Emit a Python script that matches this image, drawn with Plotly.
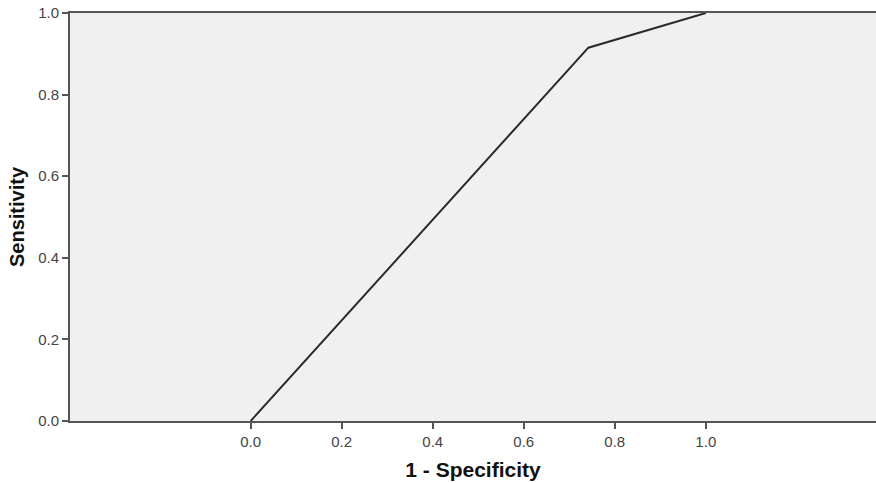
import plotly.graph_objects as go

fpr = [0.0, 0.742, 1.0]
tpr = [0.0, 0.915, 1.0]
x_ticks = [0.0, 0.2, 0.4, 0.6, 0.8, 1.0]
y_ticks = [0.0, 0.2, 0.4, 0.6, 0.8, 1.0]

fig = go.Figure()
fig.add_trace(go.Scatter(x=fpr, y=tpr, mode="lines",
                         line=dict(color="#2b2b2b", width=2), showlegend=False,
                         hoverinfo="skip"))

axis_font = dict(family="Liberation Sans, Arial, sans-serif", size=15, color="#444444")
title_font = dict(family="Liberation Sans, Arial, sans-serif", size=20, color="#111111")

fig.update_layout(
    width=876, height=483,
    margin=dict(l=70, r=0, t=13, b=62),
    paper_bgcolor="white",
    plot_bgcolor="#f0f0f0",
    xaxis=dict(
        range=[-0.397, 1.374], tickvals=x_ticks, ticktext=[f"{v:.1f}" for v in x_ticks],
        showgrid=False, zeroline=False, showline=True, linecolor="#555555", linewidth=2,
        mirror=True, ticks="outside", ticklen=6, tickwidth=2, tickcolor="#555555",
        tickfont=axis_font,
        title=dict(text="<b>1 - Specificity</b>", font=dict(title_font, size=21), standoff=13),
    ),
    yaxis=dict(
        range=[0, 1], tickvals=y_ticks, ticktext=[f"{v:.1f}" for v in y_ticks],
        showgrid=False, zeroline=False, showline=True, linecolor="#555555", linewidth=2,
        ticks="outside", ticklen=6, tickwidth=2, tickcolor="#555555",
        tickfont=axis_font,
        title=dict(text="<b>Sensitivity</b>", font=title_font, standoff=8),
    ),
)

fig.write_html("out.html",
               config={"displayModeBar": False},
               post_script="document.body.style.margin='0';document.body.style.overflow='hidden';")
